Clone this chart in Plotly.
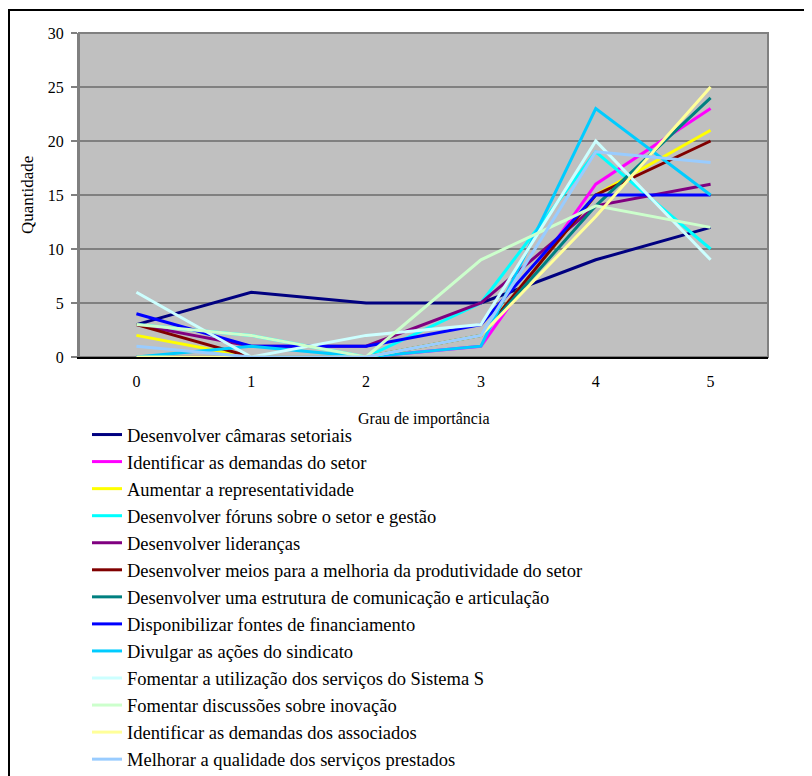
import plotly.graph_objects as go

categories = [0, 1, 2, 3, 4, 5]

series_names = [
    "Desenvolver câmaras setoriais",
    "Identificar as demandas do setor",
    "Aumentar a representatividade",
    "Desenvolver fóruns sobre o setor e gestão",
    "Desenvolver lideranças",
    "Desenvolver meios para a melhoria da produtividade do setor",
    "Desenvolver uma estrutura de comunicação e articulação",
    "Disponibilizar fontes de financiamento",
    "Divulgar as ações do sindicato",
    "Fomentar a utilização dos serviços do Sistema S",
    "Fomentar discussões sobre inovação",
    "Identificar as demandas dos associados",
    "Melhorar a qualidade dos serviços prestados",
]

camaras = [3, 6, 5, 5, 9, 12]
demandas_setor = [0, 0, 0, 1, 16, 23]
representatividade = [2, 0, 0, 2, 15, 21]
foruns = [3, 2, 0, 5, 19, 10]
liderancas = [3, 1, 1, 5, 14, 16]
produtividade = [3, 0, 0, 2, 15, 20]
comunicacao = [0, 0, 0, 2, 14, 24]
financiamento = [4, 1, 1, 3, 15, 15]
divulgar = [0, 1, 0, 1, 23, 15]
sistema_s = [6, 0, 2, 3, 20, 9]
inovacao = [3, 2, 0, 9, 14, 12]
demandas_associados = [0, 0, 0, 2, 13, 25]
qualidade = [1, 0, 0, 2, 19, 18]

series_values = [camaras, demandas_setor, representatividade, foruns, liderancas,
                 produtividade, comunicacao, financiamento, divulgar, sistema_s,
                 inovacao, demandas_associados, qualidade]

colors = ["#000080", "#FF00FF", "#FFFF00", "#00FFFF", "#800080", "#800000",
          "#008080", "#0000FF", "#00CCFF", "#CCFFFF", "#CCFFCC", "#FFFF99", "#99CCFF"]

y_ticks = [0, 5, 10, 15, 20, 25, 30]

fig = go.Figure()
for name, vals, col in zip(series_names, series_values, colors):
    fig.add_trace(go.Scatter(
        x=categories, y=vals, name=name, mode="lines",
        line=dict(color=col, width=3),
    ))

serif = "Liberation Serif, Times New Roman, Tinos, DejaVu Serif, serif"

fig.update_layout(
    width=812, height=776,
    margin=dict(l=71, r=52, t=25, b=427, autoexpand=False),
    paper_bgcolor="white",
    plot_bgcolor="#C0C0C0",
    font=dict(family=serif, color="black"),
    showlegend=True,
    legend=dict(
        xref="container", yref="container",
        x=0.0973, y=0.4742, xanchor="left", yanchor="top",
        font=dict(family=serif, size=18.5, color="black"),
        bgcolor="rgba(0,0,0,0)", tracegroupgap=0, itemwidth=30,
        traceorder="normal",
    ),
    xaxis=dict(
        range=[-0.5, 5.5], tickvals=categories, ticktext=[str(c) for c in categories],
        showgrid=False, zeroline=False, showline=True, linecolor="black", linewidth=2,
        ticks="", tickfont=dict(family=serif, size=16), ticklabelstandoff=9,
    ),
    yaxis=dict(
        range=[0, 30], tickvals=y_ticks, showgrid=True, gridcolor="#808080", gridwidth=2,
        zeroline=False, showline=True, linecolor="#808080", linewidth=2,
        ticks="outside", ticklen=6, tickcolor="#808080", tickwidth=2,
        tickfont=dict(family=serif, size=16), ticklabelstandoff=4,
    ),
    shapes=[
        dict(type="rect", xref="paper", yref="paper", x0=0, x1=1, y0=0, y1=1,
             line=dict(color="#808080", width=2), layer="below"),
        dict(type="rect", xref="paper", yref="paper", x0=-0.1016, x1=1.0595,
             y0=-1.34, y1=1.071, line=dict(color="black", width=2)),
    ],
    annotations=[
        dict(text="Grau de importância", xref="paper", yref="paper", x=0.5, y=-0.191,
             showarrow=False, font=dict(family=serif, size=16), xanchor="center", yanchor="middle"),
        dict(text="Quantidade", xref="paper", yref="paper", x=-0.0755, y=0.5,
             showarrow=False, textangle=-90, font=dict(family=serif, size=17),
             xanchor="center", yanchor="middle"),
    ],
)

fig.write_html("out.html")
